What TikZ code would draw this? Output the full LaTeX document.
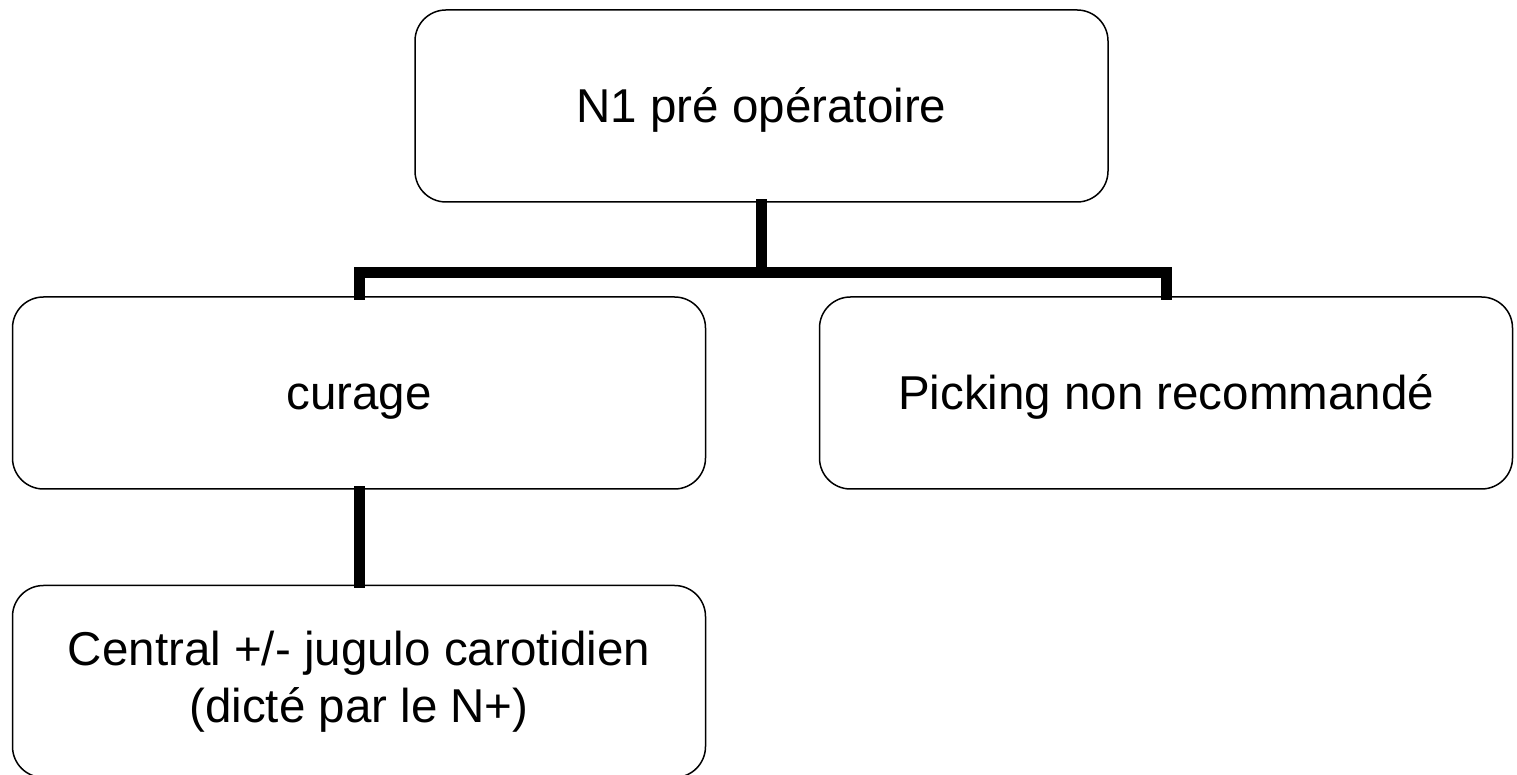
\documentclass[tikz,border=0pt]{standalone}
\usepackage{fontspec}
\setmainfont{Liberation Sans}
\usetikzlibrary{positioning}

\begin{document}
\begin{tikzpicture}[x=1pt, y=1pt, node distance=94pt and 112.5pt,
  every node/.style={font=\fontsize{47.5}{57}\selectfont},
  box/.style={draw, line width=1.5pt, rounded corners=31pt, align=center,
    minimum width=693pt, minimum height=192pt},
  oneline/.style={text height=34pt, text depth=0pt},
  link/.style={line width=11pt, line join=miter, shorten <=-3.5pt, shorten >=-3.5pt}]
\useasboundingbox (0,0) rectangle (1517,775);
\node[box,oneline] (n1) at (761.5,669) {N1 pré opératoire};
\node[box,oneline] (cur) at (359,382) {curage};
\node[box,oneline,right=of cur] (pick) {Picking non recommandé};
\node[box,below=of cur,yshift=-1pt] (cent) {Central +/- jugulo carotidien\\(dicté par le N+)};
\coordinate[below=70pt of n1.south] (fork);
\draw[link] (n1.south) -- (fork);
\draw[link] (cur.north) |- (fork) -| (pick.north);
\draw[link] (cur.south) -- (cent.north);
\end{tikzpicture}
\end{document}
